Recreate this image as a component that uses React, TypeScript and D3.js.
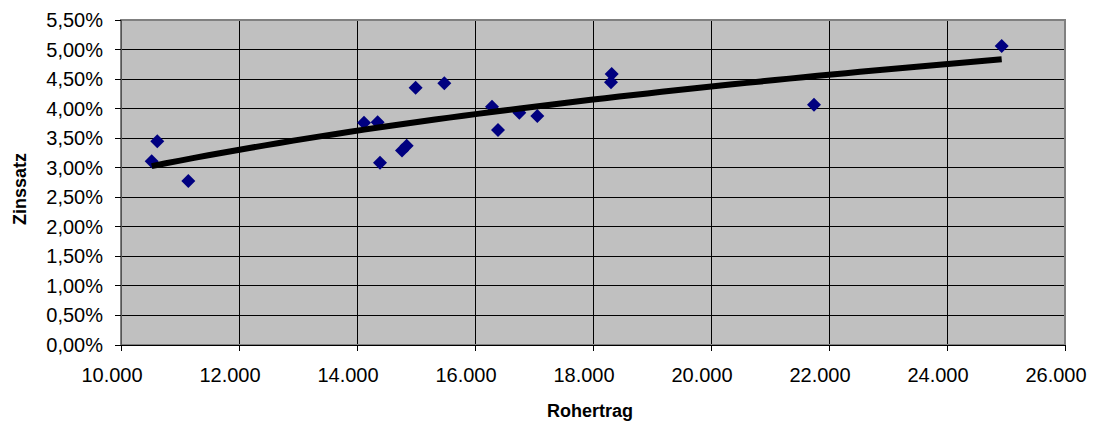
import React from "react";
import * as d3 from "d3";

const rohertrag = [10520, 10615, 11141, 14119, 14350, 14390, 14763, 14842, 14994, 15480, 16288, 16390, 16751, 17056, 18305, 18317, 21746, 24927];
const zinssatz = [3.11, 3.45, 2.775, 3.76, 3.77, 3.085, 3.29, 3.37, 4.355, 4.43, 4.03, 3.64, 3.93, 3.875, 4.445, 4.585, 4.065, 5.06];
const xTicks = [10000, 12000, 14000, 16000, 18000, 20000, 22000, 24000, 26000];
const yTicks = [0, 0.5, 1, 1.5, 2, 2.5, 3, 3.5, 4, 4.5, 5, 5.5];

const W = 1093, H = 427;
const L = 121, R = 1065, T = 20, B = 345;

export default function App() {
  const x = d3.scaleLinear().domain([10000, 26000]).range([L, R]);
  const y = d3.scaleLinear().domain([0, 5.5]).range([B, T]);

  // logarithmic trendline (least squares on ln x)
  const u = rohertrag.map((v) => Math.log(v));
  const mu = d3.mean(u)!;
  const my = d3.mean(zinssatz)!;
  let sxy = 0, sxx = 0;
  u.forEach((ui, i) => { sxy += (ui - mu) * (zinssatz[i] - my); sxx += (ui - mu) ** 2; });
  const a = sxy / sxx;
  const b = my - a * mu;
  const [xmin, xmax] = d3.extent(rohertrag) as [number, number];
  const trendPts = d3.range(0, 61).map((i) => {
    const xv = xmin + ((xmax - xmin) * i) / 60;
    return [xv, a * Math.log(xv) + b] as [number, number];
  });
  const line = d3.line<[number, number]>().x((d) => x(d[0])).y((d) => y(d[1]));

  const fmtX = (v: number) => d3.format(",")(v).replace(/,/g, ".");
  const fmtY = (v: number) => v.toFixed(2).replace(".", ",") + "%";
  const font = "'Liberation Sans', Arial, sans-serif";

  return (
    <svg width={W} height={H} style={{ position: "absolute", left: 0, top: 0, background: "#fff" }} fontFamily={font}>
      <rect x={L} y={T} width={R - L} height={B - T} fill="#c0c0c0" />
      {yTicks.map((t) => (
        <line key={"gy" + t} x1={L} x2={R} y1={y(t)} y2={y(t)} stroke="#000" strokeWidth={1} shapeRendering="crispEdges" />
      ))}
      {xTicks.map((t) => (
        <line key={"gx" + t} x1={x(t)} x2={x(t)} y1={T} y2={B} stroke="#000" strokeWidth={1} shapeRendering="crispEdges" />
      ))}
      <rect x={L} y={T} width={R - L} height={B - T} fill="none" stroke="#808080" strokeWidth={2} />
      <line x1={L} x2={R} y1={B} y2={B} stroke="#000" strokeWidth={1} shapeRendering="crispEdges" />
      <line x1={L} x2={L} y1={T} y2={B} stroke="#555" strokeWidth={1} shapeRendering="crispEdges" />
      {yTicks.map((t) => (
        <g key={"ty" + t}>
          <line x1={L - 6} x2={L} y1={y(t)} y2={y(t)} stroke="#000" shapeRendering="crispEdges" />
          <text x={103} y={y(t)} dy={7} textAnchor="end" fontSize={20} fill="#000">{fmtY(t)}</text>
        </g>
      ))}
      {xTicks.map((t) => (
        <g key={"tx" + t}>
          <line x1={x(t)} x2={x(t)} y1={B} y2={B + 6} stroke="#000" shapeRendering="crispEdges" />
          <text x={x(t) - 9} y={382} textAnchor="middle" fontSize={20} fill="#000">{fmtX(t)}</text>
        </g>
      ))}
      {rohertrag.map((v, i) => {
        const cx = x(v), cy = y(zinssatz[i]), r = 7;
        return <path key={"p" + i} d={`M${cx},${cy - r}L${cx + r},${cy}L${cx},${cy + r}L${cx - r},${cy}Z`} fill="#000080" />;
      })}
      <path d={line(trendPts)!} fill="none" stroke="#000" strokeWidth={6} />
      <text x={590} y={417} textAnchor="middle" fontSize={18} fontWeight="bold" fill="#000">Rohertrag</text>
      <text transform={`translate(26,189) rotate(-90)`} textAnchor="middle" fontSize={18} fontWeight="bold" fill="#000">Zinssatz</text>
    </svg>
  );
}
